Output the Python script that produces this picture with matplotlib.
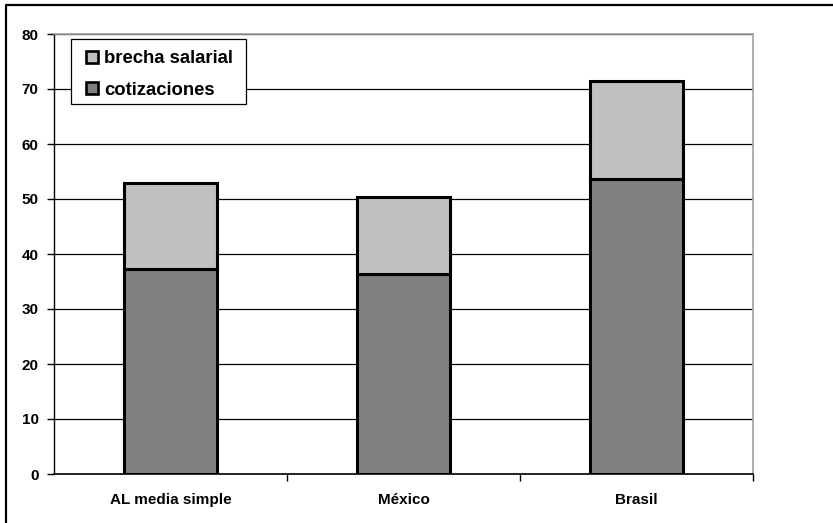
import matplotlib
matplotlib.use("Agg")
import matplotlib.pyplot as plt
from matplotlib.lines import Line2D
from matplotlib.patches import Rectangle

categories = ["AL media simple", "México", "Brasil"]
cotizaciones = [37.2, 36.3, 53.6]
brecha_salarial = [15.8, 14.1, 17.8]   # stacked on top of cotizaciones
y_ticks = [0, 10, 20, 30, 40, 50, 60, 70, 80]

plt.rcParams["font.family"] = ["Liberation Sans", "DejaVu Sans"]
plt.rcParams["font.weight"] = "bold"

W, H = 833, 523
fig = plt.figure(figsize=(W / 100, H / 100), dpi=100)
ax = fig.add_axes([54 / W, 1 - 474 / H, (753 - 54) / W, (474 - 34) / H])

x = list(range(len(categories)))
width = 0.40
dark = "#808080"
light = "#C0C0C0"

ax.bar(x, cotizaciones, width=width, color=dark, edgecolor="black",
       linewidth=2.2, zorder=3)
ax.bar(x, brecha_salarial, width=width, bottom=cotizaciones, color=light,
       edgecolor="black", linewidth=2.2, zorder=3)

ax.set_xlim(-0.5, len(categories) - 0.5)
ax.set_ylim(0, 80)
ax.set_yticks(y_ticks)
ax.set_yticklabels([str(t) for t in y_ticks], fontsize=11, fontweight="bold")
ax.yaxis.grid(True, color="black", linewidth=0.9, zorder=0)
ax.set_axisbelow(True)

# category labels centered, tick marks on the category boundaries
ax.set_xticks(x)
ax.set_xticklabels(categories, fontsize=11, fontweight="bold")
ax.tick_params(axis="x", which="major", length=0, pad=14)
ax.set_xticks([i + 0.5 for i in x], minor=True)
ax.tick_params(axis="x", which="minor", length=5, width=1, color="black")
ax.tick_params(axis="y", length=5, width=1, pad=6)

for side in ["top", "right"]:
    ax.spines[side].set_color("#A0A0A0")
    ax.spines[side].set_linewidth(1.2)
ax.spines["left"].set_color("black")
ax.spines["left"].set_linewidth(1.0)
ax.spines["bottom"].set_color("black")
ax.spines["bottom"].set_linewidth(1.2)

# legend box
lx0, ly0, lx1, ly1 = 71, 39, 246, 104
ax.add_patch(Rectangle((lx0 / W, 1 - ly1 / H), (lx1 - lx0) / W, (ly1 - ly0) / H,
                       transform=fig.transFigure, facecolor="white",
                       edgecolor="black", linewidth=0.9, zorder=4, clip_on=False))

handles = [
    Line2D([], [], linestyle="none", marker="s", markersize=8,
           markerfacecolor=light, markeredgecolor="black", markeredgewidth=1.9,
           label="brecha salarial"),
    Line2D([], [], linestyle="none", marker="s", markersize=8,
           markerfacecolor=dark, markeredgecolor="black", markeredgewidth=1.9,
           label="cotizaciones"),
]
leg = ax.legend(handles=handles, loc="upper left",
                bbox_to_anchor=((lx0 + 3) / W, 1 - (ly0 + 4) / H),
                bbox_transform=fig.transFigure,
                prop={"size": 13.3, "weight": "bold"}, frameon=False,
                handlelength=1.2, handletextpad=0.02,
                borderpad=0.4, labelspacing=0.77, borderaxespad=0)
leg.set_zorder(5)

# outer chart border (top and left edges)
fig.add_artist(Line2D([6 / W, 6 / W, 1.2], [-0.2, 1 - 5 / H, 1 - 5 / H],
                      transform=fig.transFigure, color="black", linewidth=1.6))

fig.savefig("out.png", dpi=100, facecolor="white")
